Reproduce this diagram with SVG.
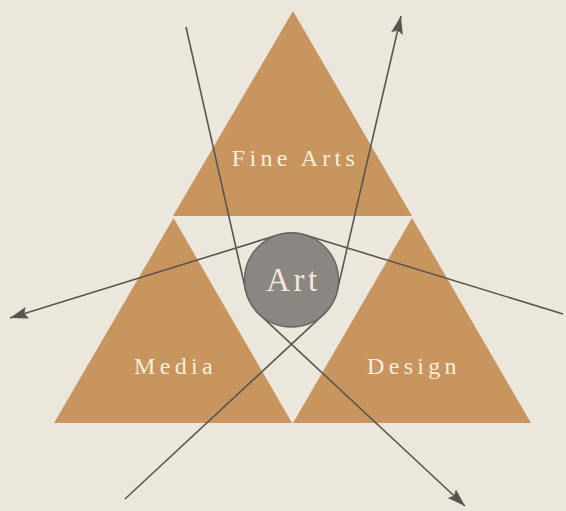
<svg xmlns="http://www.w3.org/2000/svg" width="566" height="511" viewBox="0 0 566 511">
  <defs>
    <style>
      .tri { fill: #c8955f; }
      .lbl { font-family: "Liberation Serif", "DejaVu Serif", serif; font-size: 24px; letter-spacing: 4.3px; fill: #f6eedc; text-anchor: middle; }
      .art { font-family: "Liberation Serif", "DejaVu Serif", serif; font-size: 33px; letter-spacing: 3.5px; fill: #eee8de; text-anchor: middle; }
      .conn { fill: none; stroke: #5a564f; stroke-width: 1.6; }
    </style>
    <marker id="arrow" markerUnits="userSpaceOnUse" markerWidth="20" markerHeight="13" refX="18" refY="6" orient="auto">
      <path d="M0,0 L18,6 L0,12 L3,6 Z" fill="#5a564f"/>
    </marker>
  </defs>
  <rect width="566" height="511" fill="#ebe7dc"/>

  <g id="fine-arts">
    <polygon class="tri" points="293,11 412,216 173,216"/>
    <text class="lbl" x="295.5" y="166">Fine Arts</text>
  </g>
  <g id="media">
    <polygon class="tri" points="173.5,218 292,423 54,423"/>
    <text class="lbl" x="175.5" y="374">Media</text>
  </g>
  <g id="design">
    <polygon class="tri" points="412,218 531,423 293,423"/>
    <text class="lbl" x="414" y="374">Design</text>
  </g>

  <g id="connectors">
    <path class="conn" d="M186,27 L245.66,290.39 A47,47 0 0 0 259.46,314.38 L465,506" marker-end="url(#arrow)"/>
    <path class="conn" d="M125,499 L323.51,314.42 A47,47 0 0 0 337.28,290.63 L401,16" marker-end="url(#arrow)"/>
    <path class="conn" d="M563,314 L305.26,235.06 A47,47 0 0 0 277.59,235.11 L10,318" marker-end="url(#arrow)"/>
  </g>

  <g id="art">
    <circle cx="291.5" cy="280" r="47" fill="#8b8682" stroke="#6a6661" stroke-width="1.5"/>
    <text class="art" x="293.5" y="291">Art</text>
  </g>
</svg>
